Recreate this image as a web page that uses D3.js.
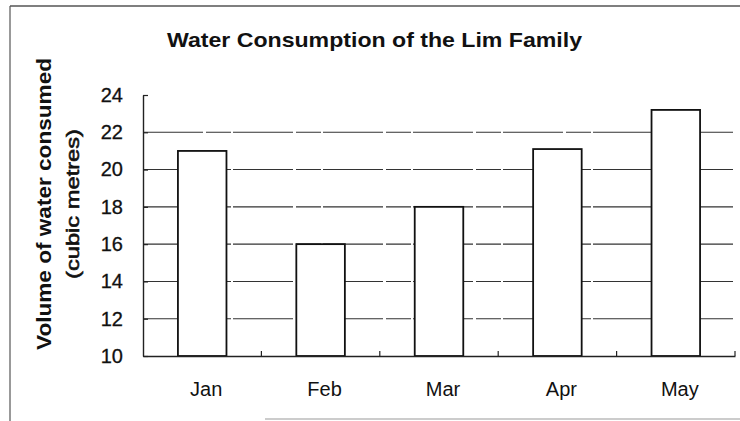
<!DOCTYPE html>
<html>
<head>
<meta charset="utf-8">
<script src="https://cdn.jsdelivr.net/npm/d3@7"></script>
<style>
  html, body { margin: 0; padding: 0; background: #fff; }
  svg { display: block; }
  text { font-family: "Liberation Sans", Arial, sans-serif; fill: #111; }
</style>
</head>
<body>
<svg id="chart" width="740" height="421"></svg>
<script>
// Monthly water consumption (cubic metres)
const months = ["Jan", "Feb", "Mar", "Apr", "May"];
const consumption = [21, 16, 18, 21.1, 23.2];
const yTicks = [10, 12, 14, 16, 18, 20, 22, 24];
const gridValues = [12, 14, 16, 18, 20, 22];

const titleText = "Water Consumption of the Lim Family";
const yLabel1 = "Volume of water consumed";
const yLabel2 = "(cubic metres)";

const svg = d3.select("#chart");
const W = 740, H = 421;
const plot = { left: 143, right: 735, top: 95, bottom: 356 };

const x = d3.scaleBand()
  .domain(months)
  .range([plot.left, plot.right])
  .paddingInner(0.59)
  .paddingOuter(0.295);

const y = d3.scaleLinear()
  .domain([10, 24])
  .range([plot.bottom, plot.top]);

// page frame
const frame = svg.append("g").attr("stroke", "#555").attr("fill", "none");
frame.append("line").attr("x1", 10).attr("x2", W).attr("y1", 6).attr("y2", 6).attr("stroke-width", 1.5);
frame.append("line").attr("x1", 10).attr("x2", 10).attr("y1", 6).attr("y2", H).attr("stroke-width", 1.2);
frame.append("line").attr("x1", 265).attr("x2", W).attr("y1", 419).attr("y2", 419)
  .attr("stroke", "#999").attr("stroke-width", 1.2);

// title
svg.append("text")
  .attr("x", 374.5)
  .attr("y", 47)
  .attr("text-anchor", "middle")
  .attr("font-size", 21)
  .attr("font-weight", "bold")
  .attr("textLength", 415)
  .attr("lengthAdjust", "spacingAndGlyphs")
  .text(titleText);

// horizontal gridlines
svg.append("g")
  .selectAll("line")
  .data(gridValues)
  .join("line")
  .attr("x1", plot.left)
  .attr("x2", plot.right - 2)
  .attr("y1", d => y(d))
  .attr("y2", d => y(d))
  .attr("stroke", "#333")
  .attr("stroke-width", 1.1)
  .attr("stroke-dasharray", "60,3,25,2");

// bars
svg.append("g")
  .selectAll("rect")
  .data(months.map((m, i) => ({ m, v: consumption[i] })))
  .join("rect")
  .attr("x", d => x(d.m))
  .attr("y", d => y(d.v))
  .attr("width", x.bandwidth())
  .attr("height", d => y(10) - y(d.v))
  .attr("fill", "#fff")
  .attr("stroke", "#111")
  .attr("stroke-width", 1.8);

// y axis
const yAxis = svg.append("g")
  .attr("transform", `translate(${plot.left},0)`)
  .call(d3.axisLeft(y).tickValues(yTicks).tickSizeInner(-5).tickSizeOuter(0).tickPadding(20));
yAxis.select(".domain").attr("stroke", "#222").attr("stroke-width", 1.4);
yAxis.selectAll(".tick line").attr("stroke", "#222").attr("stroke-width", 1.2);
yAxis.selectAll(".tick text")
  .attr("font-size", 20)
  .attr("fill", "#111")
  .attr("stroke", "#111")
  .attr("stroke-width", 0.3)
  .attr("font-family", "Liberation Sans, Arial, sans-serif");

// x axis
const xAxis = svg.append("g")
  .attr("transform", `translate(0,${plot.bottom})`)
  .call(d3.axisBottom(x).tickSize(0).tickPadding(26));
xAxis.select(".domain").attr("stroke", "#222").attr("stroke-width", 1.4);
xAxis.selectAll(".tick text")
  .attr("font-size", 20)
  .attr("dx", 4)
  .attr("fill", "#111")
  .attr("font-family", "Liberation Sans, Arial, sans-serif");

// small upward ticks between categories
const boundaries = months.map(m => x(m) + x.bandwidth() + x.step() * x.paddingInner() / 2);
svg.append("g")
  .selectAll("line")
  .data(boundaries)
  .join("line")
  .attr("x1", d => d).attr("x2", d => d)
  .attr("y1", plot.bottom).attr("y2", plot.bottom - 5)
  .attr("stroke", "#222").attr("stroke-width", 1.2);

// y axis title
svg.append("text")
  .attr("transform", "translate(51,204) rotate(-90)")
  .attr("text-anchor", "middle")
  .attr("font-size", 20)
  .attr("font-weight", "bold")
  .attr("textLength", 292)
  .attr("lengthAdjust", "spacingAndGlyphs")
  .text(yLabel1);
svg.append("text")
  .attr("transform", "translate(79,204) rotate(-90)")
  .attr("text-anchor", "middle")
  .attr("font-size", 19)
  .attr("stroke", "#111")
  .attr("stroke-width", 0.6)
  .attr("textLength", 150)
  .attr("lengthAdjust", "spacingAndGlyphs")
  .text(yLabel2);
</script>
</body>
</html>
